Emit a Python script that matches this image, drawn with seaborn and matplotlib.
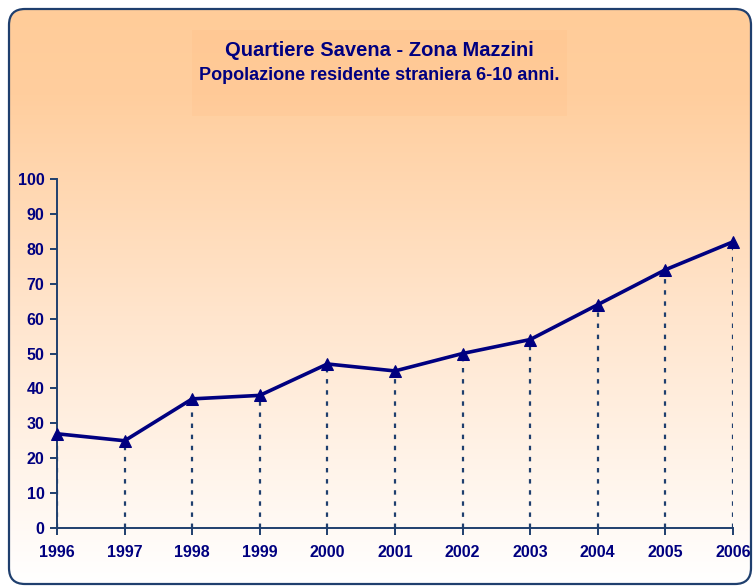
import numpy as np
import pandas as pd
import seaborn as sns
import matplotlib.pyplot as plt
from matplotlib.patches import FancyBboxPatch, Rectangle
from matplotlib.colors import LinearSegmentedColormap

# Data
anni = [1996, 1997, 1998, 1999, 2000, 2001, 2002, 2003, 2004, 2005, 2006]
residenti = [27, 25, 37, 38, 47, 45, 50, 54, 64, 74, 82]
y_ticks = [0, 10, 20, 30, 40, 50, 60, 70, 80, 90, 100]

titolo = "Quartiere Savena - Zona Mazzini"
sottotitolo = "Popolazione residente straniera 6-10 anni."

df = pd.DataFrame({"Anno": anni, "Residenti": residenti})

sns.set_style("white")
plt.rcParams['font.family'] = ['Liberation Sans', 'DejaVu Sans']

navy = "#000080"
axis_col = "#1F3F6E"

W, H = 754, 587
fig = plt.figure(figsize=(W / 100, H / 100), dpi=100)

# Background: rounded panel with orange -> white gradient
bg = fig.add_axes([0, 0, 1, 1])
bg.set_xlim(0, W)
bg.set_ylim(H, 0)
bg.axis("off")
panel = FancyBboxPatch((9, 9), 742, 575, boxstyle="round,pad=0,rounding_size=16",
                       facecolor="none", edgecolor="none")
bg.add_patch(panel)
cmap = LinearSegmentedColormap.from_list(
    "grad", [(0, "#FFCC99"), (0.15, "#FFCE9E"), (0.55, "#FFE6CF"), (1, "#FFFFFF")])
grad = np.linspace(0, 1, 256).reshape(-1, 1)
img = bg.imshow(grad, cmap=cmap, aspect="auto", extent=(9, 751, 584, 9),
                interpolation="bicubic")
img.set_clip_path(panel)
# faint title box
bg.add_patch(Rectangle((192, 30), 375, 86, facecolor="#FFB070", alpha=0.12,
                       edgecolor="none"))
bg.add_patch(FancyBboxPatch((9, 9), 742, 575, boxstyle="round,pad=0,rounding_size=16",
                            facecolor="none", edgecolor=axis_col, linewidth=1.6))
bg.text(379, 50, titolo, ha="center", va="center", fontsize=14.5,
        fontweight="bold", color=navy)
bg.text(379, 75, sottotitolo, ha="center", va="center", fontsize=13,
        fontweight="bold", color=navy)

# Plot area
ax = fig.add_axes([57 / W, 1 - 528 / H, (733 - 57) / W, (528 - 179) / H])
ax.patch.set_alpha(0)

ax.vlines(df["Anno"], 0, df["Residenti"], colors=axis_col, linestyles=(0, (2, 3)),
          linewidth=1.6, zorder=1)
sns.lineplot(data=df, x="Anno", y="Residenti", ax=ax, color=navy, linewidth=2.6,
             marker="^", markersize=9, markeredgecolor=navy, zorder=3)

ax.set_xlim(1996, 2006)
ax.set_ylim(0, 100)
ax.set_xticks(anni)
ax.set_yticks(y_ticks)
ax.set_xlabel("")
ax.set_ylabel("")
for side in ["top", "right"]:
    ax.spines[side].set_visible(False)
for side in ["left", "bottom"]:
    ax.spines[side].set_color(axis_col)
    ax.spines[side].set_linewidth(1.4)
    ax.spines[side].set_zorder(2)
ax.tick_params(axis="both", direction="out", length=5, width=1.4, color=axis_col,
               labelsize=11.5, labelcolor=navy, pad=4, bottom=True, left=True)
ax.tick_params(axis="x", pad=7)
for lab in ax.get_xticklabels() + ax.get_yticklabels():
    lab.set_fontweight("bold")
for line in ax.lines:
    line.set_clip_on(False)

fig.savefig("out.png", dpi=100)
